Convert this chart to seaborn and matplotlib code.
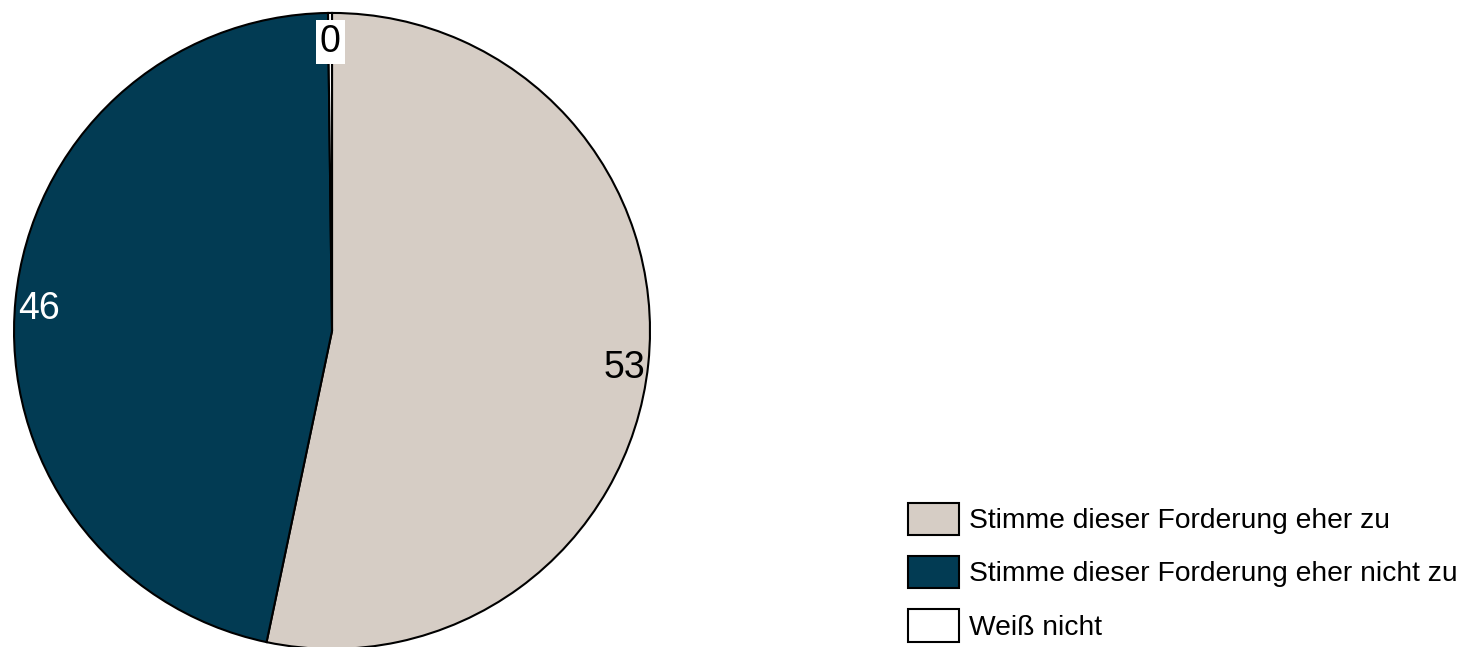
import matplotlib
matplotlib.use("Agg")
import matplotlib.pyplot as plt
import seaborn as sns

# data
categories = ['Stimme dieser Forderung eher zu',
              'Stimme dieser Forderung eher nicht zu',
              'Weiß nicht']
values = [53.3, 46.5, 0.2]
colors = ['#d6cdc5', '#023b53', '#ffffff']
text_colors = ['black', 'white', 'black']

sns.set_theme(style='white', rc={'text.color': 'black'})
plt.rcParams['font.family'] = ['Liberation Sans', 'DejaVu Sans']

fig = plt.figure(figsize=(14.61, 6.47), dpi=100)
ax = fig.add_axes([0.0096, -0.003, 0.4353, 0.983])

wedges, texts = ax.pie(values, colors=colors, startangle=90, counterclock=False,
                       labels=[f'{round(v)}' for v in values], labeldistance=0.925,
                       wedgeprops=dict(edgecolor='black', linewidth=1.5),
                       textprops=dict(fontsize=27))
for t, c in zip(texts, text_colors):
    t.set_color(c)
    t.set_ha('center')
    t.set_va('center')
    x0, y0 = t.get_position()
    t.set_position((x0, y0 - 0.022))
# tiny slice label on a white box
x0, y0 = texts[2].get_position()
texts[2].set_position((x0, y0 + 0.006))
texts[2].set_bbox(dict(facecolor='white', edgecolor='none', pad=3))
ax.set_xlim(-1.0, 1.0)
ax.set_ylim(-1.0, 1.0)
ax.set_aspect('equal')

fig.legend(wedges, categories, loc='lower left', bbox_to_anchor=(0.614, -0.009),
           frameon=False, fontsize=20.3, handlelength=1.8, handleheight=1.4,
           handletextpad=0.35, labelspacing=0.73, borderaxespad=0.0)

plt.savefig('out.png', dpi=100)
plt.close()
